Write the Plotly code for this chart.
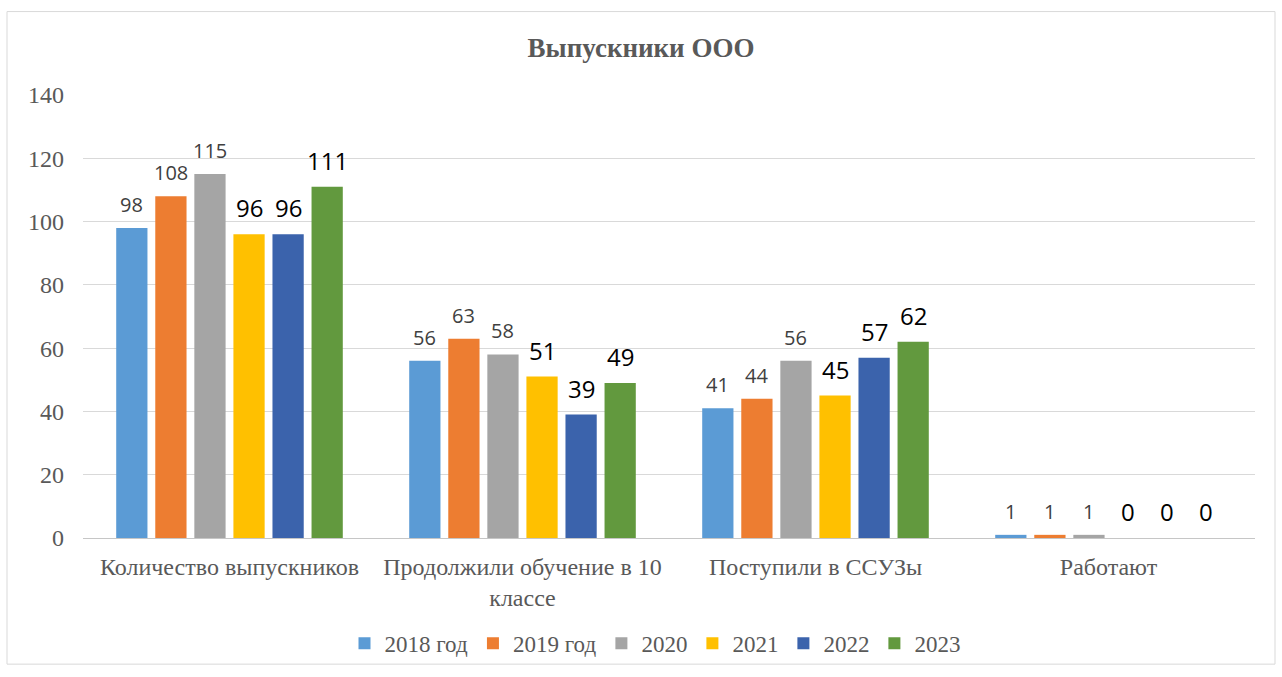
import plotly.graph_objects as go

categories = ["Количество выпускников", "Продолжили обучение в 10<br>классе", "Поступили в ССУЗы", "Работают"]
series_names = ["2018 год", "2019 год", "2020", "2021", "2022", "2023"]
values_2018 = [98, 56, 41, 1]
values_2019 = [108, 63, 44, 1]
values_2020 = [115, 58, 56, 1]
values_2021 = [96, 51, 45, 0]
values_2022 = [96, 39, 57, 0]
values_2023 = [111, 49, 62, 0]
y_ticks = [0, 20, 40, 60, 80, 100, 120, 140]

all_values = [values_2018, values_2019, values_2020, values_2021, values_2022, values_2023]
colors = ["#5B9BD5", "#ED7D31", "#A5A5A5", "#FFC000", "#3B63AC", "#62993E"]
label_styles = [
    dict(size=20, color="#404040"),
    dict(size=20, color="#404040"),
    dict(size=20, color="#404040"),
    dict(size=24, color="#000000"),
    dict(size=24, color="#000000"),
    dict(size=24, color="#000000"),
]

bargap = 0.2
n = len(all_values)
slot = (1 - bargap) / n

fig = go.Figure()
annotations = []
for i, (name, vals, col, ls) in enumerate(zip(series_names, all_values, colors, label_styles)):
    fig.add_trace(go.Bar(
        name=name, x=categories, y=vals,
        marker=dict(color=col, line=dict(width=0)),
    ))
    off = -(1 - bargap) / 2 + (i + 0.5) * slot
    for j, v in enumerate(vals):
        annotations.append(dict(
            x=j + off, y=v, xref="x", yref="y", text=str(v), showarrow=False,
            yanchor="bottom", xanchor="center", yshift=8,
            font=dict(family="Open Sans, Liberation Sans, sans-serif", size=ls["size"], color=ls["color"]),
        ))

L, R, T, B = 83, 1255, 95, 541
W, H = 1282, 677
pw, ph = R - L, B - T

fig.update_layout(
    width=W, height=H,
    margin=dict(l=L, r=W - R, t=T, b=H - B),
    paper_bgcolor="white", plot_bgcolor="white",
    barmode="group", bargap=bargap, bargroupgap=0.2,
    title=dict(text="<b>Выпускники ООО</b>", x=0.5, xanchor="center", y=1 - 48 / H, yanchor="middle",
               font=dict(family="Liberation Serif, Times New Roman, serif", size=27, color="#595959")),
    font=dict(family="Liberation Serif, Times New Roman, serif", color="#595959"),
    yaxis=dict(range=[0, 140], tickvals=y_ticks, showgrid=True, gridcolor="#D9D9D9", gridwidth=1,
               zeroline=True, zerolinecolor="#C6C6C6", zerolinewidth=1, automargin=False,
               tickfont=dict(size=24, color="#595959"), ticklabelstandoff=18, showline=False),
    xaxis=dict(tickfont=dict(size=24, color="#595959"), ticklabelstandoff=12, showline=False,
               automargin=False),
    legend=dict(orientation="h", x=(655 - L) / pw, xanchor="center", y=-(647 - B) / ph, yanchor="middle",
                font=dict(size=23, color="#595959"), itemwidth=30, traceorder="normal",
                bgcolor="rgba(0,0,0,0)"),
    annotations=annotations,
    shapes=[dict(type="rect", xref="paper", yref="paper",
                 x0=(7 - L) / pw, x1=(1275 - L) / pw, y0=(B - 668) / ph, y1=(B - 11) / ph,
                 line=dict(color="#D9D9D9", width=1), fillcolor="rgba(0,0,0,0)", layer="below")],
)

fig.write_html("out.html", config={"displayModeBar": False},
               post_script="document.body.style.margin='0';")
